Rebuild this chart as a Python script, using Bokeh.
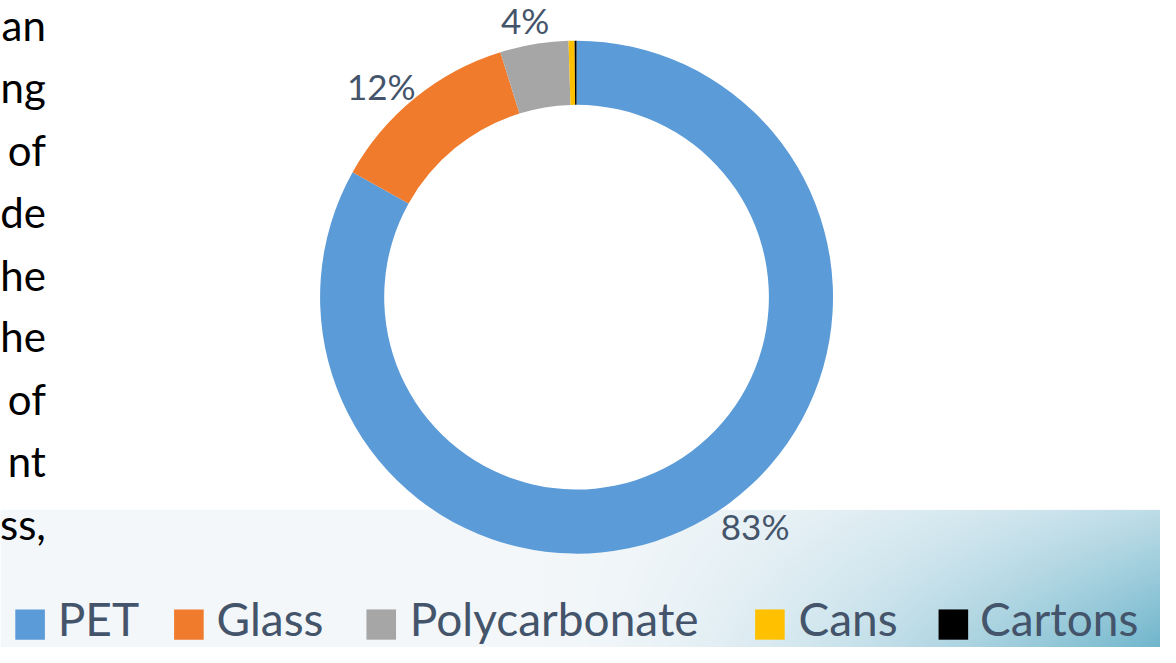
import numpy as np
from bokeh.plotting import figure
from bokeh.models import Range1d, ColumnDataSource
from bokeh.core.properties import value
from bokeh.embed import file_html
from bokeh.resources import INLINE

# ---- data ----
categories = ["PET", "Glass", "Polycarbonate", "Cans", "Cartons"]
shares = [83.1, 12.1, 4.3, 0.38, 0.12]
colors = ["#5B9BD8", "#F07B2C", "#A6A6A6", "#FFC000", "#000000"]
side_text = ["an", "ng", "of", "de", "he", "he", "of", "nt", "ss,"]

# ---- layout constants (screen-pixel coordinates of the reference) ----
W, H = 1176, 663
CX, CY = 584, 304
R_OUT, R_IN = 260, 195
label_angle_deg = {"PET": 142.3, "Glass": 317.5, "Polycarbonate": 349.6}
label_radius = {"PET": 296, "Glass": 293, "Polycarbonate": 289}
legend_square_x = [15, 176, 371, 765, 951]
legend_text_x = [58, 219, 415, 809, 993]
side_centers = [25, 89, 153, 217, 281, 344, 408, 472, 536]
TEXT_COLOR = "#44546A"

def yd(ys):
    return H - ys

p = figure(width=1160, height=647, x_range=Range1d(0, W), y_range=Range1d(0, H),
           output_backend="svg", toolbar_location=None, min_border=0)
p.axis.visible = False
p.grid.visible = False
p.outline_line_color = None
p.background_fill_color = "white"
p.border_fill_color = "white"

# ---- background band (decorative gradient) ----
band_top = 522
bw, bh = W, H - band_top
xs = np.arange(bw)[None, :]
ty = 1 - (np.arange(bh)[:, None] / (bh - 1))  # row0 (bottom) -> 1, top -> 0
tx = np.clip((xs - 550) / 626.0, 0, 1) ** 1.6
f = tx * (0.40 + 0.60 * ty)
light = np.array([243, 247, 250])
teal = np.array([112, 182, 204])
rgb = light[None, None, :] * (1 - f[..., None]) + teal[None, None, :] * f[..., None]
img = np.empty((bh, bw), dtype=np.uint32)
view = img.view(dtype=np.uint8).reshape((bh, bw, 4))
view[..., 0] = rgb[..., 0].astype(np.uint8)
view[..., 1] = rgb[..., 1].astype(np.uint8)
view[..., 2] = rgb[..., 2].astype(np.uint8)
view[..., 3] = 255
p.image_rgba(image=[img], x=0, y=0, dw=bw, dh=bh)

# ---- donut ----
total = sum(shares)
fr = np.array(shares) / total
cum_end = np.cumsum(fr)
cum_start = cum_end - fr
start = np.pi / 2 - 2 * np.pi * cum_start
end = np.pi / 2 - 2 * np.pi * cum_end
src = ColumnDataSource(dict(cat=categories, start=start, end=end, color=colors))
p.annular_wedge(x=CX, y=yd(CY), inner_radius=R_IN, outer_radius=R_OUT,
                start_angle="start", end_angle="end", direction="clock",
                fill_color="color", line_color=None, source=src)

# ---- percentage labels ----
lx, ly, lt = [], [], []
for c, v in zip(categories, fr):
    pct = round(v * 100)
    if pct < 1 or c not in label_angle_deg:
        continue
    a = np.radians(label_angle_deg[c])
    r = label_radius[c]
    lx.append(CX + r * np.sin(a))
    ly.append(yd(CY - r * np.cos(a)))
    lt.append(f"{pct}%")
p.text(x=lx, y=ly, text=lt, text_align="center", text_baseline="middle",
       text_font=value("Lato"), text_font_size="35px", text_color=TEXT_COLOR)

# ---- clipped slide text on the left ----
p.text(x=[46] * len(side_text), y=[yd(c) for c in side_centers], text=side_text,
       text_align="right", text_baseline="middle",
       text_font=value("Lato"), text_font_size="42px", text_color="#000000")

# ---- legend ----
sq = 30
p.quad(left=legend_square_x, right=[x + sq for x in legend_square_x],
       bottom=[yd(655)] * 5, top=[yd(624)] * 5, fill_color=colors, line_color=None)
p.text(x=legend_text_x, y=[yd(633)] * 5, text=categories, text_align="left",
       text_baseline="middle", text_font=value("Lato"), text_font_size="46px",
       text_color=TEXT_COLOR)

open("out.html", "w").write(file_html(p, INLINE))
